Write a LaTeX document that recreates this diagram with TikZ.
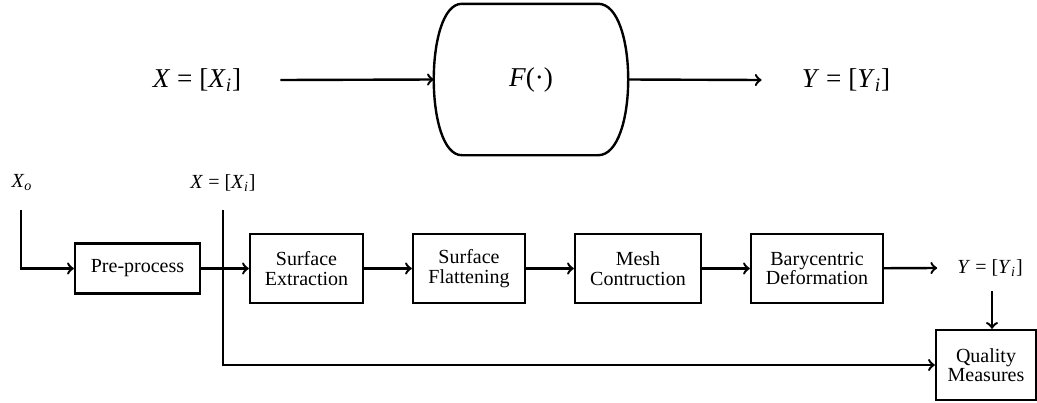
\documentclass[tikz,border=0pt]{standalone}
\usepackage{fontspec}
\setmainfont{Liberation Serif}

\newcommand*{\wmax}{1037}
\newcommand*{\hmax}{402}

\begin{document}
\begin{tikzpicture}
[
	x=0.5pt, y=-0.5pt,
	line width=1.2pt,
	block/.style={rectangle,draw,align=center,font=\fontsize{10}{9.7}\selectfont,minimum height=34.5pt,inner sep=0pt},
	biglabel/.style={inner sep=0pt,font=\fontsize{13.6}{16}\selectfont},
	smalllabel/.style={inner sep=0pt,font=\fontsize{10}{12}\selectfont}
]

	\useasboundingbox (0,0) rectangle (\wmax,\hmax);

	% mapping
	\node[biglabel] at (197,80) (xin) {\textit{X} = [\textit{X}\textsubscript{\textit{i}}]};
	\node[biglabel,minimum width=96pt,minimum height=74.5pt] at (531,79.5) (f) {\textit{F}(\textperiodcentered)};
	\node[biglabel] at (846,80) (yout) {\textit{Y} = [\textit{Y}\textsubscript{\textit{i}}]};

	\draw[line join=round] ([xshift=14pt]f.north west) -- ([xshift=-15pt]f.north east)
		.. controls +(20pt,0) and +(20pt,0) .. ([xshift=-15pt]f.south east)
		-- ([xshift=14pt]f.south west)
		.. controls +(-18.7pt,0) and +(-18.7pt,0) .. ([xshift=14pt]f.north west) -- cycle;

	\draw[->] ([xshift=19pt]xin.east) -- (f.west);
	\draw[->] (f.east) -- ([xshift=-19.5pt]yout.west);

	% pipeline
	\node[smalllabel] at (22,183) (xo) {\textit{X}\textsubscript{\textit{o}}};
	\node[smalllabel] at (223,183) (xi) {\textit{X} = [\textit{X}\textsubscript{\textit{i}}]};
	\coordinate (xotop) at (21,210);
	\coordinate (xitop) at (223,210);
	\coordinate (yotop) at (992,291);

	\node[block,minimum width=62.5pt,minimum height=25pt] at (137.5,268.5) (pre) {Pre-process};
	\node[block,minimum width=56.5pt] at (306.5,268.5) (sext) {Surface\\Extraction};
	\node[block,minimum width=56pt] at (469,268.5) (sflat) {Surface\\Flattening};
	\node[block,minimum width=63pt] at (638,268.5) (mesh) {Mesh\\Contruction};
	\node[block,minimum width=66pt] at (817,268.5) (bary) {Barycentric\\Deformation};
	\node[smalllabel] at (990,268) (yo) {\textit{Y} = [\textit{Y}\textsubscript{\textit{i}}]};
	\node[block,minimum width=50pt,minimum height=35pt] at (986,365) (qm) {Quality\\Measures};

	\draw[->] (xotop) |- (pre);
	\draw[->] (pre) -- (sext);
	\draw[->] (sext) -- (sflat);
	\draw[->] (sflat) -- (mesh);
	\draw[->] (mesh) -- (bary);
	\draw[->] (bary) -- ([xshift=-9.5pt]yo.west);
	\draw[->] (yotop) -- (yotop |- qm.north);
	\draw[->] (xitop) |- (qm);

\end{tikzpicture}
\end{document}
